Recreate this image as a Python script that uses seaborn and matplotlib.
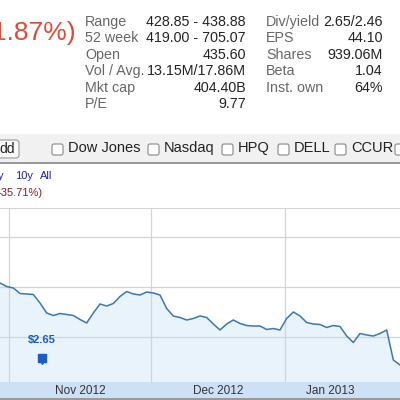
import matplotlib
matplotlib.use("Agg")
import matplotlib.pyplot as plt
import seaborn as sns
import numpy as np
import pandas as pd
from matplotlib.patches import Rectangle, FancyBboxPatch

sns.set_style("white")
plt.rcParams['font.family'] = ['Liberation Sans', 'DejaVu Sans']

# --- data ---
prices = [608, 601, 598, 587, 586, 585, 568, 548, 543, 547, 545, 543, 535, 528, 548,
          566, 562, 567, 581, 591, 586, 584, 590, 588, 584, 557, 542, 539, 534, 537,
          542, 539, 526, 514, 526, 534, 527, 523, 522, 522, 515, 517, 514, 537, 550,
          542, 529, 526, 525, 519, 523, 521, 502, 489, 507, 504, 502, 507, 514, 454, 444]
month_labels = ["Nov 2012", "Dec 2012", "Jan 2013"]
month_starts = [1.35, 22.65, 42.75]
dividend_label = "$2.65"
dividend_pos = 6.3

labels1 = ["Range", "52 week", "Open", "Vol / Avg.", "Mkt cap", "P/E"]
values1 = ["428.85 - 438.88", "419.00 - 705.07", "435.60", "13.15M/17.86M", "404.40B", "9.77"]
labels2 = ["Div/yield", "EPS", "Shares", "Beta", "Inst. own"]
values2 = ["2.65/2.46", "44.10", "939.06M", "1.04", "64%"]
compare = ["Dow Jones", "Nasdaq", "HPQ", "DELL", "CCUR"]

df = pd.DataFrame({"i": np.arange(len(prices)), "price": prices})

fig = plt.figure(figsize=(4, 4), dpi=100)
W, H = 400, 400
def fx(x): return x / W
def fy(y): return 1 - y / H

# header
fig.text(fx(-8), fy(33), "1.87%)", color="#dd4b39", fontsize=19, va="center", ha="left")
rows = [22, 38, 55, 71, 88, 104]
for r, l, v in zip(rows, labels1, values1):
    fig.text(fx(85), fy(r), l, color="#666666", fontsize=10.3, va="center")
    fig.text(fx(246), fy(r), v, color="#222222", fontsize=10.3, va="center", ha="right")
for r, l, v in zip(rows, labels2, values2):
    fig.text(fx(266), fy(r), l, color="#666666", fontsize=10.3, va="center")
    fig.text(fx(383), fy(r), v, color="#222222", fontsize=10.3, va="center", ha="right")

# toolbar band
fig.patches.append(Rectangle((0, fy(163)), 1, fy(134) - fy(163), transform=fig.transFigure,
                             facecolor="#f1f1f1", edgecolor="none"))
fig.patches.append(Rectangle((0, fy(164)), 1, 2 / H, transform=fig.transFigure,
                             facecolor="#999999", edgecolor="none"))
fig.patches.append(FancyBboxPatch((fx(-5), fy(158)), fx(24), fy(140) - fy(158),
                                  boxstyle="round,pad=0,rounding_size=0.008", transform=fig.transFigure,
                                  facecolor="#fafafa", edgecolor="#999999", lw=0.8))
fig.text(fx(-1), fy(149), "dd", fontsize=10, va="center", color="#222222")
xs = [52, 148, 222, 278, 335, 395]
for x, c in zip(xs, compare):
    fig.patches.append(FancyBboxPatch((fx(x), fy(155)), fx(11), fy(144) - fy(155),
                                      boxstyle="round,pad=0,rounding_size=0.005", transform=fig.transFigure,
                                      facecolor="white", edgecolor="#888888", lw=0.8))
    fig.text(fx(x + 16), fy(148), c, fontsize=10.5, va="center", color="#222222")
fig.patches.append(FancyBboxPatch((fx(395), fy(155)), fx(11), fy(144) - fy(155),
                                  boxstyle="round,pad=0,rounding_size=0.005", transform=fig.transFigure,
                                  facecolor="white", edgecolor="#888888", lw=0.8))
fig.text(fx(-2), fy(176), "y", fontsize=8, va="center", color="#2222aa")
fig.text(fx(15), fy(176), "10y", fontsize=8, va="center", color="#2222aa")
fig.text(fx(40), fy(176), "All", fontsize=8, va="center", color="#2222aa")
fig.text(fx(-2), fy(193), "-35.71%)", fontsize=8, va="center", color="#8b1a2b")

# chart
ax = fig.add_axes([0, fy(382), 1, fy(208) - fy(382)])
sns.lineplot(data=df, x="i", y="price", ax=ax, color="#3c78b4", lw=1.1)
ax.fill_between(df["i"], df["price"], 300, color="#e8f3fc", zorder=0)
ax.set_xlim(0, 60)
ax.set_ylim(410, 758)
ax.set_yticks([500, 600, 700])
ax.set_xticks(month_starts)
ax.grid(True, color="#d4d4d4", lw=0.9)
ax.tick_params(length=0, labelleft=False, labelbottom=False)
for s in ax.spines.values():
    s.set_visible(False)
ax.axhline(758, color="#d4d4d4", lw=1.5)
ax.set_xlabel(""); ax.set_ylabel("")
ax.text(dividend_pos, 487, dividend_label, color="#1a5bc4", fontsize=8, fontweight="bold", ha="center")
ax.plot([dividend_pos], [458], marker="s", ms=6, color="#1a5bc4", mec="#1a5bc4")
ax.plot([dividend_pos], [452], marker="v", ms=5, color="#1a5bc4")

# x band
bx = fig.add_axes([0, fy(398), 1, fy(382) - fy(398)], sharex=ax)
bx.set_facecolor("#cde0f5")
bx.set_yticks([])
bx.tick_params(axis="x", length=3, color="#8aa", labelbottom=False)
bx.set_xticks(month_starts)
for s in bx.spines.values():
    s.set_visible(False)
mids = [(month_starts[0] + month_starts[1]) / 2, (month_starts[1] + month_starts[2]) / 2, 49.5]
for m, lab in zip(mids, month_labels):
    bx.text(m, 0.45, lab, ha="center", va="center", fontsize=8.5, color="#333333",
            transform=bx.get_xaxis_transform())
fig.patches.append(Rectangle((0, 0), 1, 2 / H, transform=fig.transFigure,
                             facecolor="#999999", edgecolor="none"))

fig.savefig("out.png", dpi=100)
